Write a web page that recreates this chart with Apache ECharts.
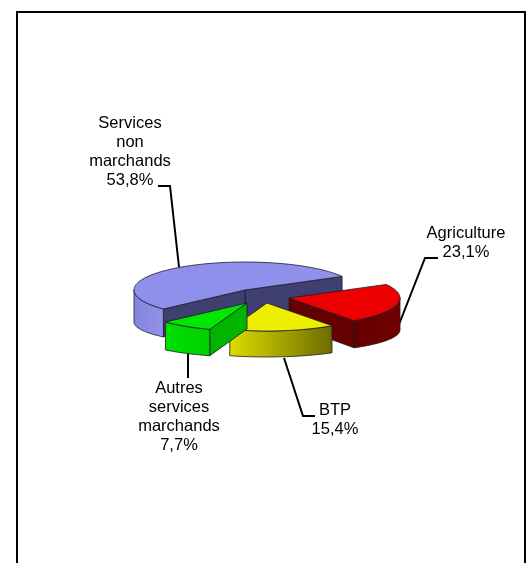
<!DOCTYPE html>
<html><head><meta charset="utf-8">
<style>html,body{margin:0;padding:0;background:#fff}#c{width:531px;height:563px}</style>
<script src="https://cdn.jsdelivr.net/npm/echarts@6/dist/echarts.min.js"></script>
</head><body><div id="c"></div>
<script>
const categories = ['Services\nnon\nmarchands','Autres\nservices\nmarchands','BTP','Agriculture'];
const shares = [53.8, 7.7, 15.4, 23.1];

// layout & style (not data)
const START_ANGLE = 29, RX = 111, RY = 28, DEPTH_FRONT = 26, DEPTH_SIDE = 32;
const centers = [[245,290],[247,303],[267,303],[289,298]];
const labelPos = [[130,151.5],[179,417],[335,419.5],[466,243]];
const leaders = [
  [[158,186],[170,186],[179,267]],
  [[188,353],[188,378]],
  [[315,416],[303,416],[284,358]],
  [[438,258],[425,258],[398,327]]
];
const palette = [
  {top:'#8F8FEC', wall:'#3F3F70', side:[[0,'#8484DC'],[1,'#9292EA']]},
  {top:'#00E800', wall:'#00B400', side:[[0,'#00E000'],[1,'#00D000']]},
  {top:'#EEEE00', wall:'#808000', side:[[0,'#DCDC00'],[1,'#6C6C00']]},
  {top:'#EE0000', wall:'#640000', side:[[0,'#640000'],[1,'#740000']]}
];
const order = [0,3,2,1];
const EDGE = {stroke:'#1a1a2a', lineWidth:0.8};

const total = shares.reduce((a,b)=>a+b,0);
const ranges = []; let acc = START_ANGLE;
shares.forEach(v=>{const s=v/total*360; ranges.push([acc,acc+s]); acc+=s;});
const rad = d=>d*Math.PI/180;
const depthAt = a=>DEPTH_SIDE-(DEPTH_SIDE-DEPTH_FRONT)*Math.abs(Math.sin(rad(a)));
const pt = (c,a)=>[c[0]+RX*Math.cos(rad(a)), c[1]-RY*Math.sin(rad(a))];
const ptLow = (c,a)=>{const p=pt(c,a);return [p[0],p[1]+depthAt(a)];};
function arc(c,a1,a2,fn=pt){const out=[],n=Math.max(2,Math.ceil(Math.abs(a2-a1)/2));
  for(let i=0;i<=n;i++)out.push(fn(c,a1+(a2-a1)*i/n));return out;}
function poly(points,style){return {type:'polygon',shape:{points},style:Object.assign({},EDGE,style)};}

function sliceShapes(i){
  const c=centers[i],[a1,a2]=ranges[i],p=palette[i],out=[];
  const wall=a=>poly([c,pt(c,a),ptLow(c,a),[c[0],c[1]+DEPTH_FRONT]],{fill:p.wall});
  if(Math.cos(rad(a1))>0)out.push(wall(a1));
  if(Math.cos(rad(a2))<0)out.push(wall(a2));
  // outer rim: the part of the arc on the viewer's side (180..360 degrees)
  [[180,360],[540,720]].forEach(([lo,hi])=>{
    const s=Math.max(a1,lo),e=Math.min(a2,hi);
    if(e>s){
      out.push(poly(arc(c,s,e).concat(arc(c,s,e,ptLow).reverse()),{fill:{type:'linear',x:0,y:0,x2:1,y2:0,
        colorStops:p.side.map(q=>({offset:q[0],color:q[1]}))}}));
    }
  });
  out.push(poly([c].concat(arc(c,a1,a2)),{fill:p.top}));
  return out;
}

const chart = echarts.init(document.getElementById('c'),null,{renderer:'canvas'});
chart.setOption({
  animation:false,
  backgroundColor:'#fff',
  graphic:[{type:'rect',silent:true,z:0,shape:{x:17,y:12,width:508,height:640},
    style:{fill:'#fff',stroke:'#000',lineWidth:2}}],
  series:[{
    type:'custom',coordinateSystem:'none',silent:true,z:5,
    data:order.map(i=>({name:categories[i].replace(/\n/g,' '),value:[shares[i],i]})),
    renderItem(params,api){
      const i=api.value(1);
      const line={type:'polyline',shape:{points:leaders[i]},style:{stroke:'#000',lineWidth:2,fill:null}};
      const label={type:'text',style:{
        text:categories[i]+'\n'+api.value(0).toFixed(1).replace('.',',')+'%',
        x:labelPos[i][0],y:labelPos[i][1],align:'center',verticalAlign:'middle',
        fontFamily:'"Liberation Sans",Arial,sans-serif',fontSize:16.5,lineHeight:19,fill:'#000'}};
      return {type:'group',children:[line].concat(sliceShapes(i),[label])};
    }
  }]
});
</script></body></html>
